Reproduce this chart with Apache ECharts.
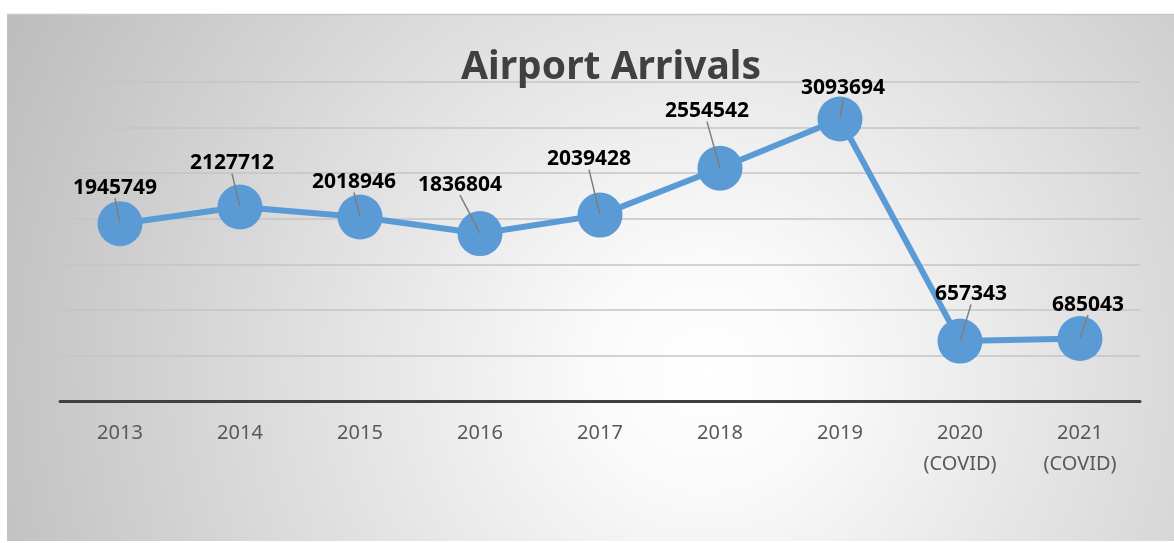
<!DOCTYPE html>
<html>
<head>
<meta charset="utf-8">
<script src="https://cdn.jsdelivr.net/npm/echarts@6/dist/echarts.min.js"></script>
<style>
  html, body { margin: 0; padding: 0; background: #fff; }
  #main { width: 1174px; height: 543px; }
</style>
</head>
<body>
<div id="main"></div>
<script>
var years = ['2013', '2014', '2015', '2016', '2017', '2018', '2019', '2020\n(COVID)', '2021\n(COVID)'];
var arrivals = [1945749, 2127712, 2018946, 1836804, 2039428, 2554542, 3093694, 657343, 685043];
// where each value label sits relative to its point
var labelOffsets = [[-5, -36], [-8, -44], [-6, -35], [-20, -49], [-11, -56], [-13, -57], [3, -31], [11, -47], [8, -34]];

var chartDom = document.getElementById('main');
var myChart = echarts.init(chartDom);
var option;

option = {
  animation: false,
  backgroundColor: '#ffffff',
  graphic: [
    {
      type: 'rect',
      z: -10,
      silent: true,
      shape: { x: 7, y: 14, width: 1167, height: 527 },
      style: {
        fill: {
          type: 'radial', x: 0.6, y: 0.68, r: 1.45,
          colorStops: [
            { offset: 0, color: '#ffffff' },
            { offset: 0.15, color: '#fafafa' },
            { offset: 1, color: '#bebebe' }
          ]
        }
      }
    },
    {
      type: 'line',
      z: -9,
      silent: true,
      shape: { x1: 7, y1: 14.5, x2: 1174, y2: 14.5 },
      style: { stroke: '#c8c8c8', lineWidth: 1.5 }
    }
  ],
  title: {
    text: 'Airport Arrivals',
    left: 606,
    top: 43,
    textAlign: 'center',
    textStyle: {
      fontFamily: 'Noto Sans',
      fontWeight: 'bold',
      fontSize: 39,
      color: '#404040'
    }
  },
  grid: { left: 60, right: 34, top: 82, bottom: 142 },
  xAxis: {
    type: 'category',
    data: years,
    axisLine: { lineStyle: { color: '#404040', width: 3 } },
    axisTick: { show: false },
    axisLabel: {
      fontFamily: 'Noto Sans',
      fontSize: 20,
      color: '#595959',
      lineHeight: 31,
      margin: 17
    }
  },
  yAxis: {
    type: 'value',
    min: 0,
    max: 3500000,
    interval: 500000,
    axisLabel: { show: false },
    axisLine: { show: false },
    axisTick: { show: false },
    splitLine: { lineStyle: { color: '#c4c4c4', width: 1.5 } }
  },
  series: [
    {
      type: 'line',
      data: arrivals,
      symbol: 'circle',
      symbolSize: 45,
      itemStyle: { color: '#5b9bd5' },
      lineStyle: { color: '#5b9bd5', width: 6 },
      z: 2
    },
    {
      // labels with leader lines that reach the point centres
      type: 'line',
      data: arrivals,
      symbol: 'circle',
      symbolSize: 1,
      itemStyle: { color: 'rgba(0,0,0,0)' },
      lineStyle: { width: 0, opacity: 0 },
      z: 5,
      label: {
        show: true,
        position: 'inside',
        fontFamily: 'Noto Sans',
        fontWeight: 'bold',
        fontSize: 21,
        color: '#000000'
      },
      labelLine: {
        show: true,
        showAbove: true,
        lineStyle: { color: '#7f7f7f', width: 1.5 }
      },
      labelLayout: function (params) {
        var off = labelOffsets[params.dataIndex];
        return { dx: off[0], dy: off[1] };
      }
    }
  ]
};

option && myChart.setOption(option);
</script>
</body>
</html>
